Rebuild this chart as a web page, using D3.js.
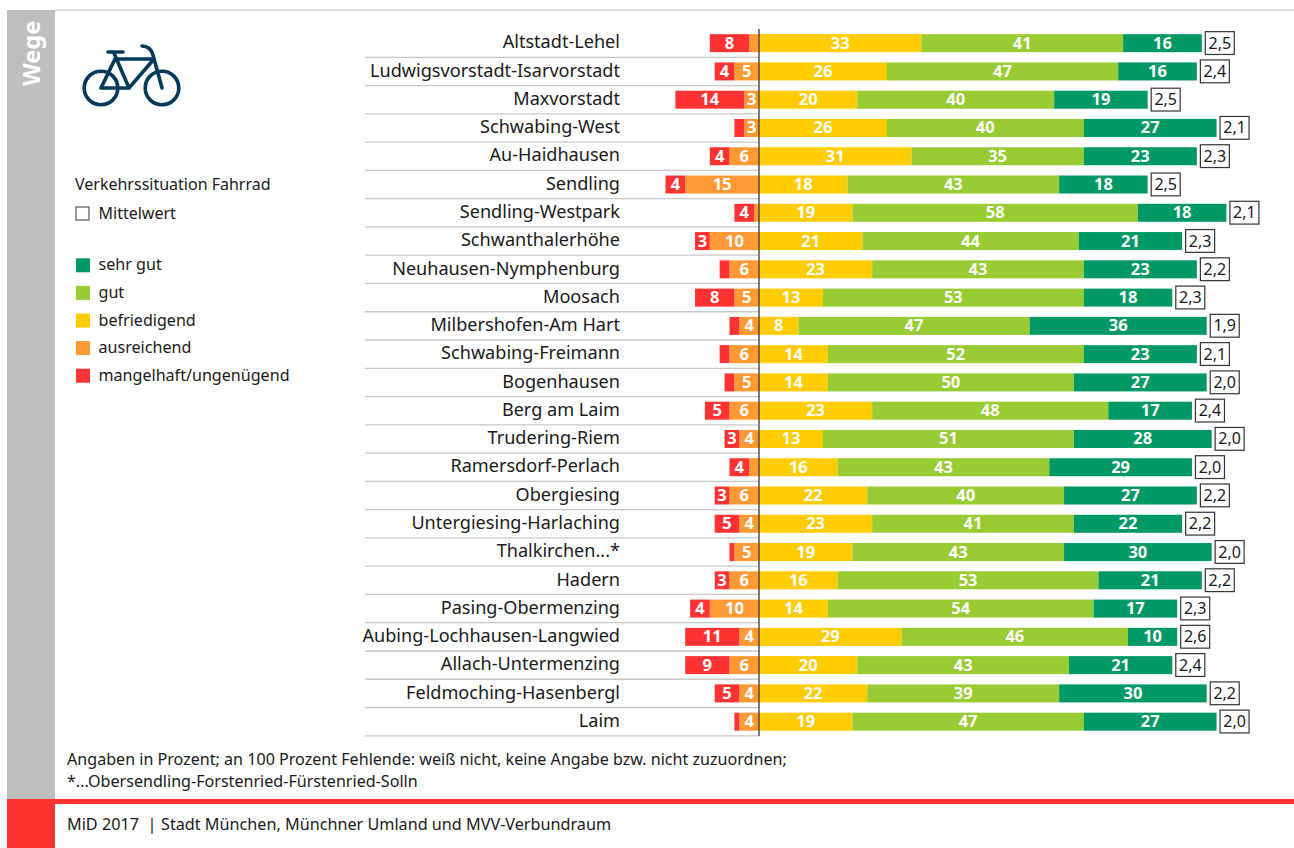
<!DOCTYPE html>
<html><head><meta charset="utf-8">
<script src="https://cdn.jsdelivr.net/npm/d3@7/dist/d3.min.js"></script>
<style>
html,body{margin:0;padding:0;background:#fff}
svg{display:block}
text{font-family:"Noto Sans",sans-serif;fill:#1a1a1a}
</style></head><body>
<script>
const districts=["Altstadt-Lehel","Ludwigsvorstadt-Isarvorstadt","Maxvorstadt","Schwabing-West","Au-Haidhausen","Sendling","Sendling-Westpark","Schwanthalerhöhe","Neuhausen-Nymphenburg","Moosach","Milbershofen-Am Hart","Schwabing-Freimann","Bogenhausen","Berg am Laim","Trudering-Riem","Ramersdorf-Perlach","Obergiesing","Untergiesing-Harlaching","Thalkirchen...*","Hadern","Pasing-Obermenzing","Aubing-Lochhausen-Langwied","Allach-Untermenzing","Feldmoching-Hasenbergl","Laim"];
const mangelhaft=[8,4,14,2,4,4,4,3,2,8,2,2,2,5,3,4,3,5,1,3,4,11,9,5,1];
const ausreichend=[2,5,3,3,6,15,1,10,6,5,4,6,5,6,4,2,6,4,5,6,10,4,6,4,4];
const befriedigend=[33,26,20,26,31,18,19,21,23,13,8,14,14,23,13,16,22,23,19,16,14,29,20,22,19];
const gut=[41,47,40,40,35,43,58,44,43,53,47,52,50,48,51,43,40,41,43,53,54,46,43,39,47];
const sehrGut=[16,16,19,27,23,18,18,21,23,18,36,23,27,17,28,29,27,22,30,21,17,10,21,30,27];
const mittelwert=["2,5","2,4","2,5","2,1","2,3","2,5","2,1","2,3","2,2","2,3","1,9","2,1","2,0","2,4","2,0","2,0","2,2","2,2","2,0","2,2","2,3","2,6","2,4","2,2","2,0"];
const legendLabels=["sehr gut","gut","befriedigend","ausreichend","mangelhaft/ungenügend"];
const legendColors=["#009966","#99cc33","#ffcc00","#ff9933","#ff3333"];
const footnotes=["Angaben in Prozent; an 100 Prozent Fehlende: weiß nicht, keine Angabe bzw. nicht zuzuordnen;","*...Obersendling-Forstenried-Fürstenried-Solln"];

const svg=d3.select("body").append("svg").attr("width",1294).attr("height",848);
const x=d3.scaleLinear().domain([0,100]).range([759,1251]);
const y=d3.scaleBand().domain(districts).range([29.03,735.8]).paddingInner(0.363).paddingOuter(0.1815);
const step=y.step();

// page furniture
svg.append("rect").attr("x",55).attr("y",9.5).attr("width",1239).attr("height",1.2).attr("fill","#c8c8c8");
svg.append("rect").attr("x",7).attr("y",10).attr("width",48).attr("height",790).attr("fill","#bebebe");
svg.append("rect").attr("x",7).attr("y",799).attr("width",1287).attr("height",5).attr("fill","#ff3333");
svg.append("rect").attr("x",7).attr("y",799).attr("width",48).attr("height",49).attr("fill","#ff3333");
svg.append("text").text("Wege").attr("transform","translate(40,86) rotate(-90)")
  .attr("font-size",23.5).attr("font-weight",700).style("fill","#fff");

// bicycle icon
const bike=svg.append("g").attr("fill","none").attr("stroke","#003a5a").attr("stroke-width",3.6).attr("stroke-linecap","round").attr("stroke-linejoin","round");
bike.append("circle").attr("cx",101).attr("cy",88).attr("r",16.8);
bike.append("circle").attr("cx",162).attr("cy",88).attr("r",16.8);
bike.append("path").attr("d","M101 88L115 59H154L129 88H101M108 52H123M113.500 52L129 88M162 88L153 55Q150.500 46 142 46");

// separators
svg.append("g").selectAll("line").data(districts).join("line")
  .attr("x1",365).attr("x2",759)
  .attr("y1",d=>y(d)+y.bandwidth()/2+step/2).attr("y2",d=>y(d)+y.bandwidth()/2+step/2)
  .attr("stroke","#c8c8c8").attr("stroke-width",1.3);

// stacked bars
const segs=[];
districts.forEach((d,i)=>{
  let n0=0;
  [[ausreichend,"#ff9933"],[mangelhaft,"#ff3333"]].forEach(([arr,c])=>{
    segs.push({d,v:arr[i],a:n0-arr[i],b:n0,c});n0-=arr[i];
  });
  let p0=0;
  [[befriedigend,"#ffcc00"],[gut,"#99cc33"],[sehrGut,"#009966"]].forEach(([arr,c])=>{
    segs.push({d,v:arr[i],a:p0,b:p0+arr[i],c});p0+=arr[i];
  });
});
svg.append("g").selectAll("rect").data(segs).join("rect")
  .attr("x",s=>x(s.a)).attr("width",s=>x(s.b)-x(s.a))
  .attr("y",s=>y(s.d)).attr("height",y.bandwidth()).attr("fill",s=>s.c);
svg.append("g").selectAll("text").data(segs.filter(s=>s.v>=3)).join("text")
  .attr("x",s=>(x(s.a)+x(s.b))/2).attr("y",s=>y(s.d)+y.bandwidth()/2+5.500)
  .attr("text-anchor","middle").attr("font-size",16.500).attr("font-weight",700)
  .style("fill","#fff").text(s=>s.v);

// zero line
svg.append("line").attr("x1",x(0)).attr("x2",x(0)).attr("y1",29).attr("y2",736)
  .attr("stroke","#444").attr("stroke-width",1.4);

// category axis
const axis=svg.append("g").attr("transform","translate(620,-0.2)").call(d3.axisLeft(y).tickSize(0).tickPadding(0));
axis.select(".domain").remove();
axis.selectAll("text").attr("font-size",18.1).attr("dy","0.3em").style("font-family",'"Noto Sans",sans-serif').style("fill","#1a1a1a");

// mean boxes
const boxes=svg.append("g").selectAll("g").data(districts).join("g")
  .attr("transform",(d,i)=>`translate(${x(befriedigend[i]+gut[i]+sehrGut[i])+3.500},${y(d)-2.500})`);
boxes.append("rect").attr("width",29).attr("height",22.8).attr("fill","#fff").attr("stroke","#333").attr("stroke-width",1.2);
boxes.append("text").attr("x",14.500).attr("y",17).attr("text-anchor","middle").attr("font-size",16).text((d,i)=>mittelwert[i]);

// legend
svg.append("text").attr("x",75).attr("y",190).attr("font-size",16).text("Verkehrssituation Fahrrad");
svg.append("rect").attr("x",76).attr("y",207).attr("width",13).attr("height",13).attr("fill","#fff").attr("stroke","#333");
svg.append("text").attr("x",98.500).attr("y",219).attr("font-size",16).text("Mittelwert");
const lg=svg.append("g").selectAll("g").data(legendLabels).join("g")
  .attr("transform",(d,i)=>`translate(76,${258.3+i*27.600})`);
lg.append("rect").attr("width",14).attr("height",14).attr("fill",(d,i)=>legendColors[i]);
lg.append("text").attr("x",22.500).attr("y",12).attr("font-size",16.100).text(d=>d);

// footnotes
svg.append("g").selectAll("text").data(footnotes).join("text")
  .attr("x",67).attr("y",(d,i)=>765+i*22).attr("font-size",16.100).text(d=>d);
const foot=svg.append("text").attr("y",830).attr("font-size",16.200);
foot.append("tspan").attr("x",67).text("MiD 2017");
foot.append("tspan").attr("x",147.500).text("|");
foot.append("tspan").attr("x",161).text("Stadt München, Münchner Umland und MVV-Verbundraum");
</script>
</body></html>
